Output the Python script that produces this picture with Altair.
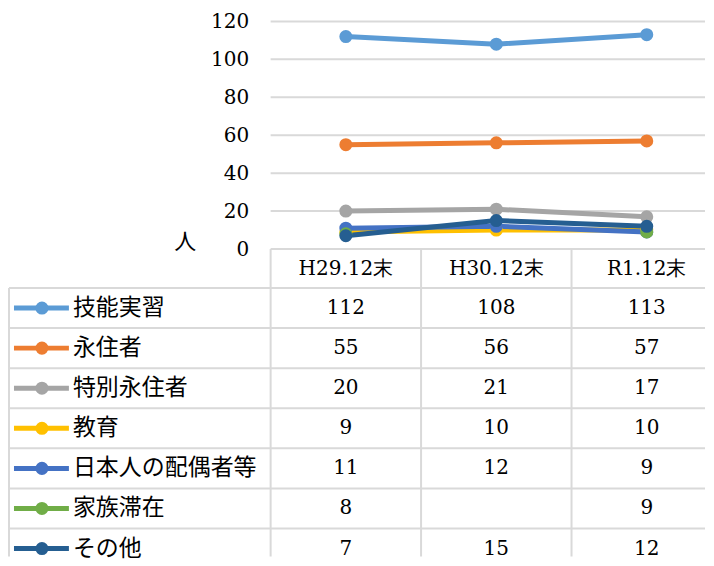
import altair as alt
import pandas as pd

# ---- data ----
periods = ["H29.12末", "H30.12末", "R1.12末"]
series = ["技能実習", "永住者", "特別永住者", "教育", "日本人の配偶者等", "家族滞在", "その他"]
colors = ["#5B9BD5", "#ED7D31", "#A5A5A5", "#FFC000", "#4472C4", "#70AD47", "#255E91"]
v_ginou = [112, 108, 113]
v_eiju = [55, 56, 57]
v_tokubetsu = [20, 21, 17]
v_kyoiku = [9, 10, 10]
v_haigu = [11, 12, 9]
v_kazoku = [8, None, 9]
v_other = [7, 15, 12]
y_ticks = [0, 20, 40, 60, 80, 100, 120]
y_unit = "人"

all_values = [v_ginou, v_eiju, v_tokubetsu, v_kyoiku, v_haigu, v_kazoku, v_other]
rows = []
for s, vals in zip(series, all_values):
    for p, v in zip(periods, vals):
        rows.append({"series": s, "period": p, "value": v,
                     "label": "" if v is None else str(v)})
df = pd.DataFrame(rows)
hdr_df = pd.DataFrame({"period": periods})
leg_df = pd.DataFrame({"series": series})
tick_df = pd.DataFrame({"tick": y_ticks})

# ---- styles ----
NUM_FONT = "DejaVu Serif"
JP_FONT = "Noto Sans CJK JP"
GRID = "#d9d9d9"
GW = 2
LEFT_W = 262
RIGHT_W = 435          # visible part of the three value columns
RIGHT_RANGE = 452      # full width of the three columns (third one runs off the page)
PLOT_H = 228
HDR_H = 39
TABLE_H = 269          # visible part of the table rows
TABLE_RANGE = 281      # seven rows of ~40 px

color = alt.Color("series:N", scale=alt.Scale(domain=series, range=colors), legend=None)
x_band_scale = alt.Scale(type="band", paddingInner=0, paddingOuter=0, range=[0, RIGHT_RANGE])
y_band_scale = alt.Scale(type="band", paddingInner=0, paddingOuter=0, range=[0, TABLE_RANGE])


def hline(data, **enc):
    return alt.Chart(data).mark_rule(color=GRID, strokeWidth=GW).encode(
        x=alt.value(0), x2=alt.value("width"), **enc)


def vline(data, **enc):
    return alt.Chart(data).mark_rule(color=GRID, strokeWidth=GW).encode(
        y=alt.value(0), y2=alt.value("height"), **enc)


# ---- line chart ----
x_pt = alt.X("period:N", sort=periods,
             scale=alt.Scale(type="point", padding=0.5, range=[0, RIGHT_RANGE]), axis=None)
y_scale = alt.Scale(domain=[0, 120], nice=False)
y_axis = alt.Axis(values=y_ticks, grid=False, domain=False, ticks=False, labelOverlap=False,
                  labelFont=NUM_FONT, labelFontSize=20, labelColor="#000000", labelPadding=22,
                  title=y_unit, titleAngle=0, titleFont=JP_FONT, titleFontSize=22,
                  titleFontWeight="normal", titleColor="#000000",
                  titleX=-86, titleY=220, titleAlign="center", titleBaseline="middle")
grid = hline(tick_df, y=alt.Y("tick:Q", scale=y_scale, axis=y_axis))
lines = alt.Chart(df).mark_line(strokeWidth=5, invalid="break-paths-filter-domains").encode(
    x=x_pt, y=alt.Y("value:Q", scale=y_scale, axis=y_axis), color=color)
points = alt.Chart(df).transform_filter("isValid(datum.value)").mark_circle(size=170, opacity=1).encode(
    x=x_pt, y=alt.Y("value:Q", scale=y_scale, axis=y_axis), color=color)
line_chart = alt.layer(grid, lines, points).properties(width=RIGHT_W, height=PLOT_H)

# ---- table header ----
hdr_lines = vline(hdr_df, x=alt.X("period:N", sort=periods, scale=x_band_scale, bandPosition=0, axis=None))
hdr_text = alt.Chart(hdr_df).mark_text(font=NUM_FONT, fontSize=20, color="#000000").encode(
    x=alt.X("period:N", sort=periods, scale=x_band_scale, axis=None), text="period:N")
header = alt.layer(hdr_lines, hdr_text).properties(width=RIGHT_W, height=HDR_H)

# ---- table values ----
val_vlines = vline(hdr_df, x=alt.X("period:N", sort=periods, scale=x_band_scale, bandPosition=0, axis=None))
val_hlines = hline(leg_df, y=alt.Y("series:N", sort=series, scale=y_band_scale, bandPosition=0, axis=None))
val_text = alt.Chart(df).mark_text(font=NUM_FONT, fontSize=20, color="#000000").encode(
    x=alt.X("period:N", sort=periods, scale=x_band_scale, axis=None),
    y=alt.Y("series:N", sort=series, scale=y_band_scale, axis=None),
    text="label:N")
vals = alt.layer(val_vlines, val_hlines, val_text).properties(width=RIGHT_W, height=TABLE_H)

# ---- legend column ----
y_leg = alt.Y("series:N", sort=series, scale=y_band_scale, axis=None)
leg_hlines = hline(leg_df, y=alt.Y("series:N", sort=series, scale=y_band_scale, bandPosition=0, axis=None))
leg_left = alt.Chart(leg_df.head(1)).mark_rule(color=GRID, strokeWidth=GW).encode(
    x=alt.value(0), y=alt.value(0), y2=alt.value("height"))
leg_rule = alt.Chart(leg_df).mark_rule(strokeWidth=5).encode(
    x=alt.value(5), x2=alt.value(60), y=y_leg, color=color)
leg_pt = alt.Chart(leg_df).mark_circle(size=170, opacity=1).encode(
    x=alt.value(33), y=y_leg, color=color)
leg_txt = alt.Chart(leg_df).mark_text(align="left", baseline="middle", font=JP_FONT,
                                      fontSize=23, color="#000000").encode(
    x=alt.value(64), y=y_leg, text="series:N")
legend_col = alt.layer(leg_hlines, leg_left, leg_rule, leg_pt, leg_txt).properties(
    width=LEFT_W, height=TABLE_H)

# ---- spacers ----
blank = pd.DataFrame({"t": [""]})
spacer1 = alt.Chart(blank).mark_text().encode(text="t:N").properties(width=LEFT_W, height=PLOT_H)
spacer2 = alt.Chart(blank).mark_text().encode(text="t:N").properties(width=LEFT_W, height=HDR_H)

chart = alt.concat(
    spacer1, line_chart,
    spacer2, header,
    legend_col, vals,
    columns=2, spacing=0, bounds="flush",
).properties(
    padding={"left": 0, "top": 3, "right": 0, "bottom": 0},
    background="#ffffff",
).configure_view(stroke=None)

chart.save("out.html", embed_options={"renderer": "svg", "actions": False})
